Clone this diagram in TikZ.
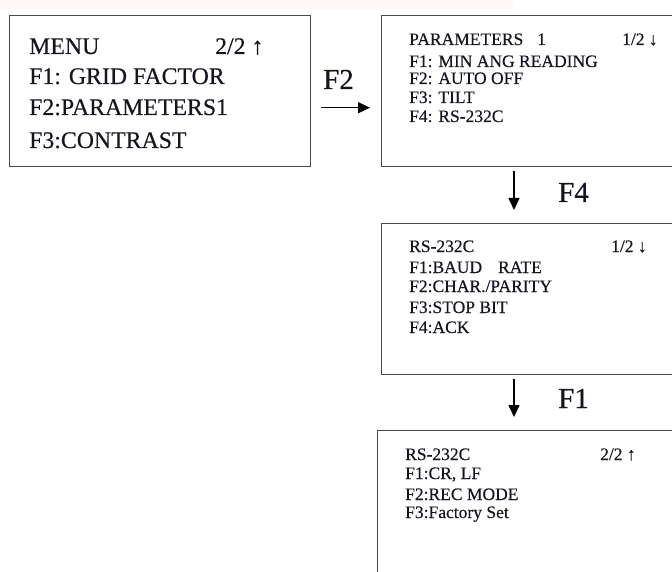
\documentclass[tikz,border=0pt]{standalone}
\usepackage{fontspec}
\setmainfont{Liberation Serif}[FakeBold=0.35]
\usetikzlibrary{arrows.meta}
\definecolor{boxgray}{HTML}{4A4A4A}
\definecolor{inkcol}{HTML}{15151F}
\definecolor{tint}{HTML}{FFF8F6}
\begin{document}
\begin{tikzpicture}[x=1pt,y=-1pt,
  screen/.style={draw=boxgray, line width=1.4pt, rectangle, inner sep=0pt, anchor=north west},
  big/.style={anchor=base west, inner sep=0pt, text=inkcol, font=\fontsize{23.8}{28}\selectfont},
  small/.style={anchor=base west, inner sep=0pt, text=inkcol, font=\fontsize{17.5}{20}\selectfont},
  keylabel/.style={anchor=base west, inner sep=0pt, text=inkcol, font=\fontsize{29}{34}\selectfont},
  flow/.style={line width=1.6pt, draw=black, -{Triangle[length=12pt,width=11pt]}}
]
\useasboundingbox (0,0) rectangle (672,572);
\clip (0,0) rectangle (672,572);
\fill[tint] (0,0) rectangle (513,9);

% screens
\node[screen, minimum width=301pt, minimum height=151pt] (b1) at (9,15) {};
\node[screen, minimum width=320pt, minimum height=151pt] (b2) at (381,15) {};
\node[screen, minimum width=320pt, minimum height=151pt] (b3) at (381,223) {};
\node[screen, minimum width=320pt, minimum height=200pt] (b4) at (377,430) {};

% box 1 text
\node[big] (m0) at (29,54) {MENU};
\node[big] (m0r) at (215,54) {2/2 ↑};
\node[big] (m1) at (29,84) {F1: GRID FACTOR};
\node[big] (m2) at (29,115) {F2:PARAMETERS1};
\node[big] (m3) at (29,148) {F3:CONTRAST};

% box 2 text
\node[small] (p0) at (409,45) {PARAMETERS\hspace*{14pt}1};
\node[small] (p0r) at (622,45) {1/2 ↓};
\node[small] (p1) at (409,67) {F1: MIN ANG READING};
\node[small] (p2) at (409,84) {F2: AUTO OFF};
\node[small] (p3) at (409,103) {F3: TILT};
\node[small] (p4) at (409,122) {F4: RS-232C};

% box 3 text
\node[small] (r0) at (409,252) {RS-232C};
\node[small] (r0r) at (611,252) {1/2 ↓};
\node[small] (r1) at (409,273) {F1:BAUD\hspace*{16pt}RATE};
\node[small] (r2) at (409,292) {F2:CHAR./PARITY};
\node[small] (r3) at (409,313) {F3:STOP BIT};
\node[small] (r4) at (409,333) {F4:ACK};

% box 4 text
\node[small] (s0) at (405,460) {RS-232C};
\node[small] (s0r) at (600,460) {2/2 ↑};
\node[small] (s1) at (405,479) {F1:CR, LF};
\node[small] (s2) at (405,500) {F2:REC MODE};
\node[small] (s3) at (405,518) {F3:Factory Set};

% key labels
\node[keylabel] (k2) at (323,89) {F2};
\node[keylabel] (k4) at (558,202) {F4};
\node[keylabel] (k1) at (558,408) {F1};

% connectors
\draw[flow] ([shift={(10,16.5)}]b1.east) -- ([shift={(-11,16.5)}]b2.west);
\draw[flow] ([shift={(133,4)}]b2.south west) -- ([shift={(133,-13)}]b3.north west);
\draw[flow] ([shift={(133,4)}]b3.south west) -- ([shift={(137,-13)}]b4.north west);
\end{tikzpicture}
\end{document}
